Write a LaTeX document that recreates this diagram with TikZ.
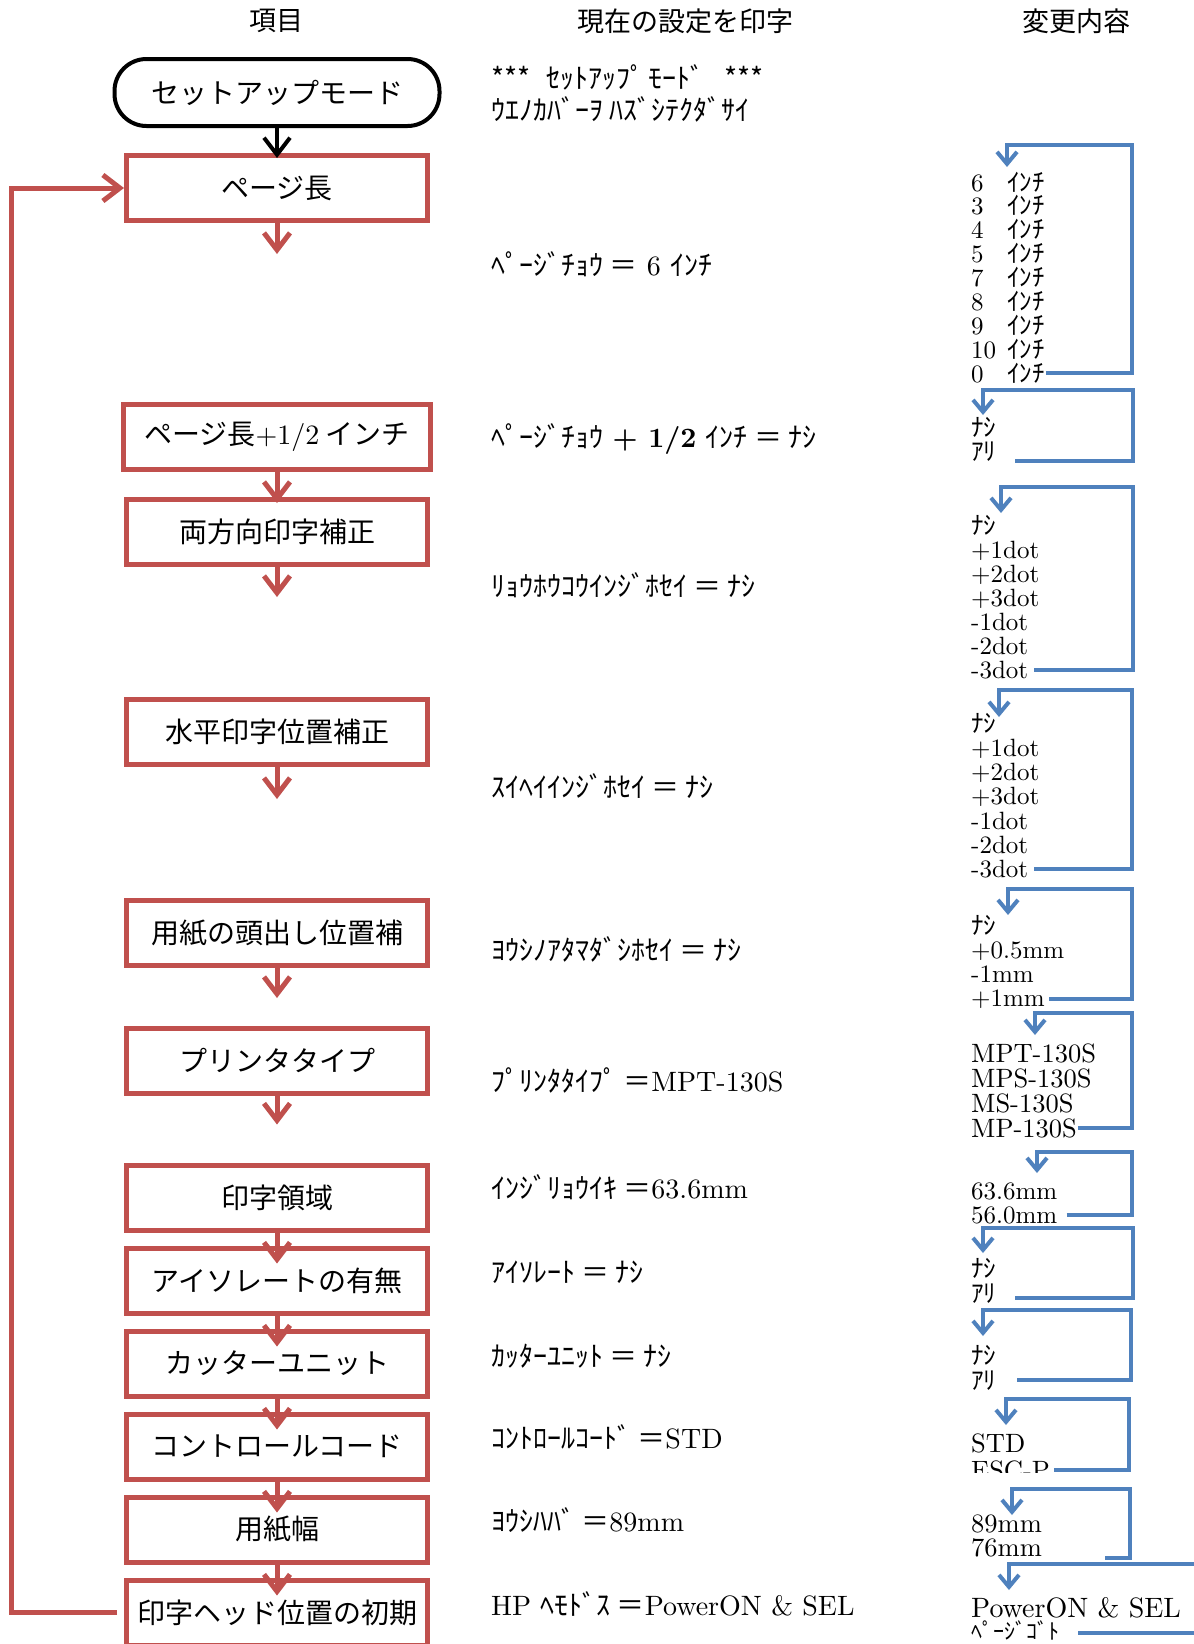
\documentclass[tikz,border=0pt]{standalone}
\usepackage{fontspec}
\setmainfont{lmroman10-regular}[Extension=.otf, BoldFont=lmroman10-bold]
\usepackage{tikz}
\usetikzlibrary{positioning, arrows.meta}
\newfontfamily\jpfont{Noto Sans CJK JP}
\newcommand{\jp}[1]{{\jpfont #1}}
\definecolor{itemred}{RGB}{192, 80, 77}
\definecolor{loopblue}{RGB}{79, 129, 189}

\begin{document}
\begin{tikzpicture}[x=1pt, y=-1pt, node distance=13pt,
    term/.style={rectangle, draw=black, line width=4pt, rounded corners=32pt, minimum width=325pt, minimum height=67pt, inner sep=0pt, font=\fontsize{28}{28}\jpfont},
    item/.style={rectangle, draw=itemred, line width=5pt, minimum width=301pt, minimum height=65pt, inner sep=0pt, font=\fontsize{28}{28}\jpfont},
    colhead/.style={inner sep=0pt, font=\fontsize{27}{27}\jpfont},
    cur/.style={anchor=base west, inner sep=0pt, font=\fontsize{28}{28}\selectfont},
    opt/.style={anchor=base west, inner sep=1pt, font=\fontsize{25}{25}\selectfont},
    bigopt/.style={opt, font=\fontsize{26.5}{26.5}\selectfont},
    entry/.style={draw=black, line width=4pt, ->},
    flow/.style={draw=itemred, line width=5pt, ->},
    cyc/.style={draw=loopblue, line width=4pt, -{Straight Barb[length=12pt, width=20pt]}},
    >={Straight Barb[length=17pt, width=26pt]}]

    \useasboundingbox (0,0) rectangle (1194,1644);

    % Column heads
    \node[colhead] (h_item) at (276,21) {項目};
    \node[colhead] (h_now) at (685,21) {現在の設定を印字};
    \node[colhead] (h_new) at (1076,21) {変更内容};

    % Setup flow
    \node[term] (setup) at (277,92.5) {セットアップモード};
    \node[item] (page) at (277,188) {ページ長};
    \node[item, minimum width=307pt] (half) at (277,437) {ページ長{\rmfamily +1/2} インチ};
    \node[item, below=25pt of half] (dual) {両方向印字補正};
    \node[item] (horiz) at (277,732) {水平印字位置補正};
    \node[item] (tof) at (277,933) {用紙の頭出し位置補};
    \node[item] (ptype) at (277,1060.5) {プリンタタイプ};
    \node[item] (area) at (277,1197.5) {印字領域};
    \node[item, below=of area] (iso) {アイソレートの有無};
    \node[item, below=of iso] (cutter) {カッターユニット};
    \node[item, below=of cutter] (ctrl) {コントロールコード};
    \node[item, below=of ctrl] (pwidth) {用紙幅};
    \node[item, below=of pwidth] (hpos) {印字ヘッド位置の初期};

    % Stub ends
    \coordinate (page_end) at ([yshift=-31pt]page.south);
    \coordinate (dual_end) at ([yshift=-30pt]dual.south);
    \coordinate (horiz_end) at ([yshift=-32pt]horiz.south);
    \coordinate (tof_end) at ([yshift=-30pt]tof.south);
    \coordinate (ptype_end) at ([yshift=-29pt]ptype.south);
    \coordinate (loop_x) at (11,900);

    % Flow arrows
    \draw[entry] (setup.south) -- ([yshift=-5pt]page.north);
    \draw[flow] (page) -- (page_end);
    \draw[flow] (half) -- ([yshift=-6pt]dual.north);
    \draw[flow] (dual) -- (dual_end);
    \draw[flow] (horiz) -- (horiz_end);
    \draw[flow] (tof) -- (tof_end);
    \draw[flow] (ptype) -- (ptype_end);
    \draw[flow] (area) -- ([yshift=-18pt]iso.north);
    \draw[flow] (iso) -- ([yshift=-18pt]cutter.north);
    \draw[flow] (cutter) -- ([yshift=-18pt]ctrl.north);
    \draw[flow] (ctrl) -- ([yshift=-18pt]pwidth.north);
    \draw[flow] (pwidth) -- ([yshift=-18pt]hpos.north);
    \draw[flow] ([xshift=-7pt]hpos.west) -- (hpos.west -| loop_x) |- (page.west);

    % Current settings
    \node[cur] (now_mode) at (491,88) {\jp{***\hspace{16pt}ｾｯﾄｱｯﾌﾟ\hspace{4pt}ﾓｰﾄﾞ\hspace{20pt}***}};
    \node[cur] (now_msg) at (491,120) {\jp{ｳｴﾉｶﾊﾞｰｦ ﾊｽﾞｼﾃｸﾀﾞｻｲ}};
    \node[cur] (now_page) at (491,275) {\jp{ﾍﾟｰｼﾞﾁｮｳ ＝} 6 \jp{ｲﾝﾁ}};
    \node[cur] (now_half) at (491,447) {\jp{ﾍﾟｰｼﾞﾁｮｳ} \textbf{+ 1/2} \jp{ｲﾝﾁ ＝ ﾅｼ}};
    \node[cur] (now_dual) at (491,596) {\jp{ﾘｮｳﾎｳｺｳｲﾝｼﾞﾎｾｲ ＝ ﾅｼ}};
    \node[cur] (now_horiz) at (491,797) {\jp{ｽｲﾍｲｲﾝｼﾞﾎｾｲ ＝ ﾅｼ}};
    \node[cur] (now_tof) at (491,960) {\jp{ﾖｳｼﾉｱﾀﾏﾀﾞｼﾎｾｲ ＝ ﾅｼ}};
    \node[cur] (now_type) at (491,1091) {\jp{ﾌﾟﾘﾝﾀﾀｲﾌﾟ ＝}MPT-130S};
    \node[cur] (now_area) at (491,1198) {\jp{ｲﾝｼﾞﾘｮｳｲｷ ＝}63.6mm};
    \node[cur] (now_iso) at (491,1282) {\jp{ｱｲｿﾚｰﾄ ＝ ﾅｼ}};
    \node[cur] (now_cut) at (491,1366) {\jp{ｶｯﾀｰﾕﾆｯﾄ ＝ ﾅｼ}};
    \node[cur] (now_ctrl) at (491,1448) {\jp{ｺﾝﾄﾛｰﾙｺｰﾄﾞ ＝}STD};
    \node[cur] (now_width) at (491,1531) {\jp{ﾖｳｼﾊﾊﾞ ＝}89mm};
    \node[cur] (now_hp) at (491,1615) {HP \jp{ﾍﾓﾄﾞｽ ＝}PowerON \& SEL};

    % Page length
    \foreach \v [count=\i] in {6,3,4,5,7,8,9,10,0}
        \node[opt] (inch\i) at (970,167.1+23.9*\i) {\makebox[36pt][l]{\v}\jp{ｲﾝﾁ}};
    \coordinate (inch_top) at (1132,145);
    \coordinate (inch_tip) at (1007,167);
    \draw[cyc] (inch9.east) -| (inch_top) -| (inch_tip);

    % Page length + 1/2
    \foreach \v [count=\i] in {ﾅｼ,ｱﾘ}
        \node[opt] (half\i) at (970,412+24*\i) {\jp{\v}};
    \coordinate (half_top) at (1133,390);
    \coordinate (half_tip) at (983,415);
    \draw[cyc] ([shift={(18pt,-10pt)}]half2.east) -| (half_top) -| (half_tip);

    % Bidirectional
    \foreach \v [count=\i] in {\jp{ﾅｼ},+1dot,+2dot,+3dot,-1dot,-2dot,-3dot}
        \node[opt] (dual\i) at (970,510+24*\i) {\v};
    \coordinate (dual_top) at (1133,487);
    \coordinate (dual_tip) at (1001,513);
    \draw[cyc] ([xshift=5pt]dual7.east) -| (dual_top) -| (dual_tip);

    % Horizontal
    \foreach \v [count=\i] in {\jp{ﾅｼ},+1dot,+2dot,+3dot,-1dot,-2dot,-3dot}
        \node[opt] (horiz\i) at (970,707.7+24.3*\i) {\v};
    \coordinate (horiz_top) at (1132,690);
    \coordinate (horiz_tip) at (999,717);
    \draw[cyc] ([xshift=5pt]horiz7.east) -| (horiz_top) -| (horiz_tip);

    % Top of form
    \foreach \v [count=\i] in {\jp{ﾅｼ},+0.5mm,-1mm,+1mm}
        \node[opt] (tof\i) at (970,910+24*\i) {\v};
    \coordinate (tof_top) at (1132,889);
    \coordinate (tof_tip) at (1008,915);
    \draw[cyc] ([xshift=3pt]tof4.east) -| (tof_top) -| (tof_tip);

    % Printer type
    \foreach \v [count=\i] in {MPT-130S,MPS-130S,MS-130S,MP-130S}
        \node[bigopt] (type\i) at (970,1037+25*\i) {\v};
    \coordinate (type_top) at (1132,1013);
    \coordinate (type_tip) at (1035,1035);
    \draw[cyc] (type4.east) -| (type_top) -| (type_tip);

    % Print area
    \foreach \v [count=\i] in {63.6mm,56.0mm}
        \node[opt] (area\i) at (970,1175+24*\i) {\v};
    \coordinate (area_top) at (1132,1152);
    \coordinate (area_tip) at (1037,1173);
    \draw[cyc] ([xshift=8pt]area2.east) -| (area_top) -| (area_tip);

    % Isolate
    \foreach \v [count=\i] in {ﾅｼ,ｱﾘ}
        \node[opt] (iso\i) at (970,1252+25*\i) {\jp{\v}};
    \coordinate (iso_top) at (1133,1228);
    \coordinate (iso_tip) at (983,1253);
    \draw[cyc] ([shift={(18pt,-5pt)}]iso2.east) -| (iso_top) -| (iso_tip);

    % Cutter
    \foreach \v [count=\i] in {ﾅｼ,ｱﾘ}
        \node[opt] (cut\i) at (970,1339+25*\i) {\jp{\v}};
    \coordinate (cut_top) at (1131,1310);
    \coordinate (cut_tip) at (983,1336);
    \draw[cyc] ([xshift=20pt]cut2.east) -| (cut_top) -| (cut_tip);

    % Control code
    \begin{scope}
        \clip (960,1380) rectangle (1110,1472);
        \foreach \v [count=\i] in {STD,ESC-P}
            \node[bigopt] (ctrl\i) at (970,1425+27*\i) {\v};
    \end{scope}
    \coordinate (ctrl_top) at (1129,1399);
    \coordinate (ctrl_tip) at (1006,1425);
    \draw[cyc] ([xshift=3pt]ctrl2.east) -| (ctrl_top) -| (ctrl_tip);

    % Paper width
    \foreach \v [count=\i] in {89mm,76mm}
        \node[bigopt] (width\i) at (970,1508+24*\i) {\v};
    \coordinate (width_top) at (1130,1489);
    \coordinate (width_tip) at (1012,1515);
    \draw[cyc] ([shift={(62pt,-11pt)}]width2.east) -| (width_top) -| (width_tip);

    % Head home
    \node[opt, font=\fontsize{28}{28}\selectfont] (home1) at (970,1617) {PowerON \& SEL};
    \node[opt, font=\fontsize{22}{22}\selectfont] (home2) at (970,1639) {\jp{ﾍﾟｰｼﾞｺﾞﾄ}};
    \coordinate (home_top) at (1215,1564);
    \coordinate (home_tip) at (1009,1590);
    \draw[cyc] ([shift={(18pt,-3pt)}]home2.east) -| (home_top) -| (home_tip);
\end{tikzpicture}
\end{document}
